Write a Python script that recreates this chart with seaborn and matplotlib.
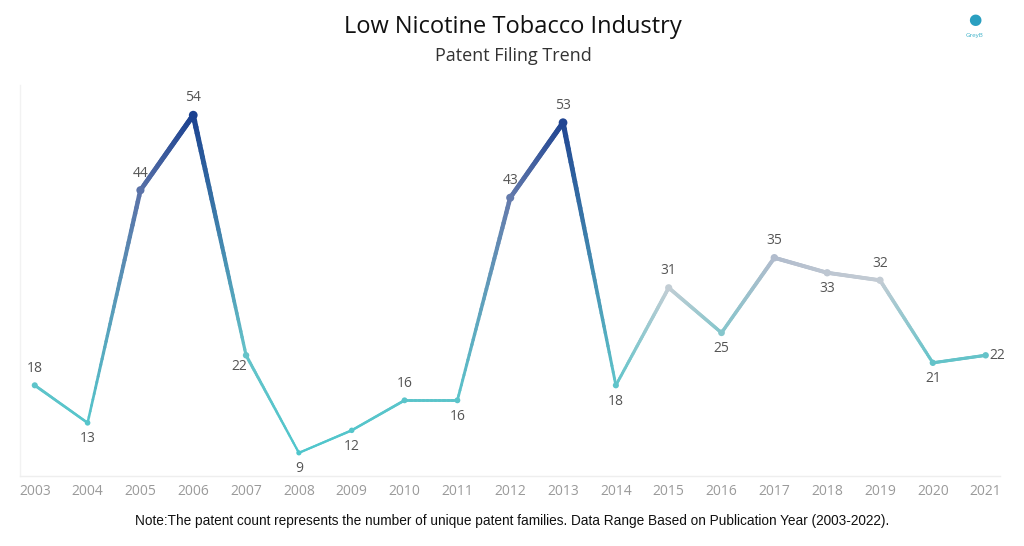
import numpy as np
import pandas as pd
import matplotlib
matplotlib.use("Agg")
import matplotlib.pyplot as plt
import seaborn as sns
from matplotlib.collections import LineCollection
from matplotlib.colors import LinearSegmentedColormap, Normalize

years = [2003, 2004, 2005, 2006, 2007, 2008, 2009, 2010, 2011, 2012,
         2013, 2014, 2015, 2016, 2017, 2018, 2019, 2020, 2021]
counts = [18, 13, 44, 54, 22, 9, 12, 16, 16, 43,
          53, 18, 31, 25, 35, 33, 32, 21, 22]
# label placement: 'a' above, 'b' below, 'r' right
label_pos = ['a', 'b', 'a', 'a', 'bl', 'b', 'b', 'a', 'b', 'a',
             'a', 'b', 'a', 'b', 'a', 'b', 'a', 'b', 'r']

title = "Low Nicotine Tobacco Industry"
subtitle = "Patent Filing Trend"
note = "Note:The patent count represents the number of unique patent families. Data Range Based on Publication Year (2003-2022)."

df = pd.DataFrame({"year": years, "count": counts})

sns.set_theme(style="white")
plt.rcParams['font.family'] = ['Open Sans', 'DejaVu Sans']

cmap = LinearSegmentedColormap.from_list(
    "tealblue", [(0.0, "#4fc6cc"), (0.3, "#66c3c9"), (0.4, "#9cc8ce"), (0.5, "#c6ced5"),
                 (0.6, "#aab6ca"), (0.78, "#5a72a8"), (1.0, "#1b4190")])
vmin, vmax = min(counts), max(counts)
norm = Normalize(vmin=vmin, vmax=vmax)

fig = plt.figure(figsize=(10.24, 5.46), dpi=100)
ax = fig.add_axes([0.0195, 0.128, 0.9575, 0.716])

# gradient line: colour blends in RGB from one point's colour to the next
xs, ys = np.array(years, float), np.array(counts, float)
pc = np.array([cmap(norm(v)) for v in counts])
pw = np.array([1.6 + 2.2 * norm(v) for v in counts])
segs, cols, lws = [], [], []
n = 40
for i in range(len(xs) - 1):
    t = np.linspace(0, 1, n + 1)
    px = xs[i] + (xs[i + 1] - xs[i]) * t
    py = ys[i] + (ys[i + 1] - ys[i]) * t
    for j in range(n):
        segs.append([(px[j], py[j]), (px[j + 1], py[j + 1])])
        tm = (t[j] + t[j + 1]) / 2
        cols.append(pc[i] * (1 - tm) + pc[i + 1] * tm)
        lws.append(pw[i] * (1 - tm) + pw[i + 1] * tm)
lc = LineCollection(segs, colors=cols, linewidths=lws, capstyle='round', joinstyle='round')
ax.add_collection(lc)

sns.scatterplot(data=df, x="year", y="count", hue="count", palette=cmap, hue_norm=norm,
                size="count", sizes=(14, 40), legend=False, edgecolor="none", ax=ax, zorder=3)

for x, y, p in zip(years, counts, label_pos):
    if p == 'a':
        ax.annotate(str(y), (x, y), xytext=(0, 7), textcoords='offset points',
                    ha='center', va='bottom', fontsize=10, color='#555555')
    elif p == 'b':
        ax.annotate(str(y), (x, y), xytext=(0, -6), textcoords='offset points',
                    ha='center', va='top', fontsize=10, color='#555555')
    elif p == 'bl':
        ax.annotate(str(y), (x, y), xytext=(-5, -3), textcoords='offset points',
                    ha='center', va='top', fontsize=10, color='#555555')
    else:
        ax.annotate(str(y), (x, y), xytext=(3, 0), textcoords='offset points',
                    ha='left', va='center', fontsize=10, color='#555555')

ax.set_xlim(2002.72, 2021.28)
ax.set_ylim(5.9, 58)
ax.set_xticks(years)
ax.set_xticklabels([str(y) for y in years], fontsize=10, color='#9a9a9a')
ax.set_yticks([])
ax.set_xlabel("")
ax.set_ylabel("")
ax.tick_params(axis='x', length=0, pad=6)
for s in ['top', 'right']:
    ax.spines[s].set_visible(False)
ax.spines['bottom'].set_color('#eeeeee')
ax.spines['left'].set_color('#f2f2f2')
ax.spines['bottom'].set_linewidth(1)
ax.spines['left'].set_linewidth(1)

fig.text(0.501, 0.951, title, ha='center', va='center', fontsize=17, color='#111111')
fig.text(0.501, 0.897, subtitle, ha='center', va='center', fontsize=13, color='#333333')
fig.text(0.5, 0.046, note, ha='center', va='center', fontsize=9.8, color='#111111',
         family=['Liberation Sans', 'DejaVu Sans'])

# logo
fig.text(0.952, 0.962, "\u25CF", ha='center', va='center', fontsize=11, color='#2a9fc0')
fig.text(0.952, 0.935, "GreyB", ha='center', va='center', fontsize=4.5, color='#3ab0c8')

fig.savefig("out.png", dpi=100, facecolor='white')
